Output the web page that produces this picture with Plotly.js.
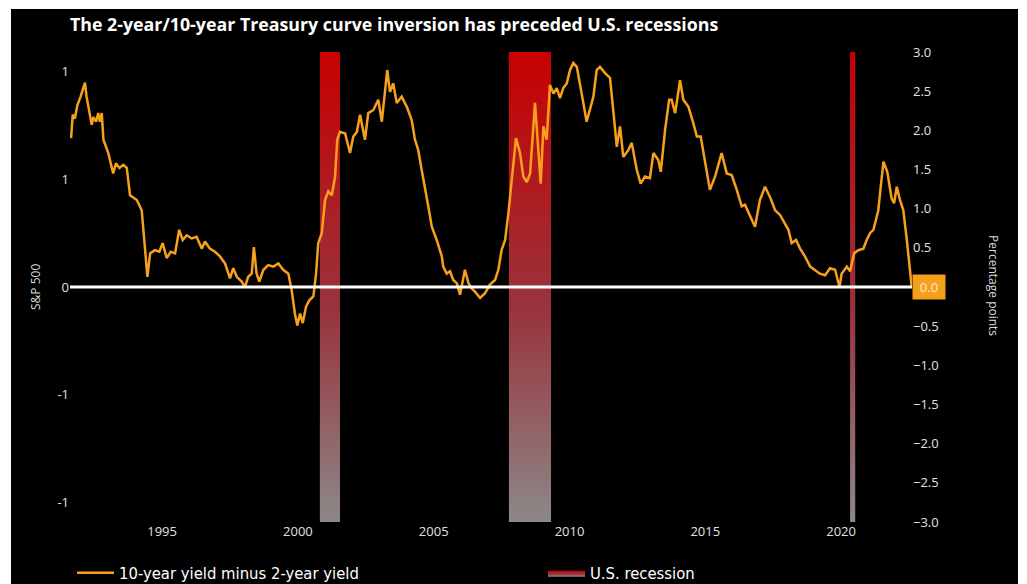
<!DOCTYPE html>
<html>
<head>
<meta charset="utf-8">
<script src="https://cdn.plot.ly/plotly-3.0.1.min.js"></script>
<style>
  html, body { margin: 0; padding: 0; background: #ffffff; width: 1027px; height: 584px; overflow: hidden; }
  #chart { position: absolute; left: 11px; top: 9px; width: 1007px; height: 575px; }
</style>
</head>
<body>
<div id="chart"></div>
<script>
// ---- Data (decimal years, percentage points) ----
const spreadDates = [
  1991.65,1991.71,1991.79,1991.88,1992.00,1992.16,1992.22,1992.32,1992.41,1992.47,
  1992.57,1992.65,1992.71,1992.78,1992.84,1993.02,1993.20,1993.30,1993.43,1993.57,
  1993.70,1993.82,1994.07,1994.25,1994.37,1994.46,1994.56,1994.74,1994.90,1995.02,
  1995.17,1995.32,1995.48,1995.63,1995.76,1995.91,1996.09,1996.27,1996.46,1996.58,
  1996.76,1996.95,1997.13,1997.32,1997.50,1997.62,1997.75,1997.93,1998.05,1998.17,
  1998.30,1998.38,1998.48,1998.58,1998.73,1998.91,1999.10,1999.28,1999.46,1999.65,
  1999.77,1999.89,1999.98,2000.08,2000.18,2000.30,2000.42,2000.57,2000.67,2000.75,
  2000.88,2001.00,2001.12,2001.25,2001.37,2001.45,2001.55,2001.74,2001.92,2002.04,
  2002.17,2002.29,2002.47,2002.59,2002.78,2002.96,2003.09,2003.21,2003.29,2003.39,
  2003.51,2003.64,2003.82,2004.01,2004.19,2004.31,2004.43,2004.56,2004.68,2004.80,
  2004.93,2005.11,2005.30,2005.35,2005.48,2005.60,2005.72,2005.85,2005.97,2006.15,
  2006.28,2006.40,2006.52,2006.71,2006.89,2007.07,2007.26,2007.38,2007.50,2007.63,
  2007.75,2007.87,2008.03,2008.18,2008.30,2008.43,2008.55,2008.73,2008.85,2008.94,
  2009.04,2009.16,2009.28,2009.41,2009.53,2009.65,2009.77,2009.90,2010.02,2010.14,
  2010.27,2010.39,2010.51,2010.63,2010.76,2010.88,2011.00,2011.12,2011.31,2011.49,
  2011.61,2011.74,2011.86,2011.98,2012.17,2012.29,2012.48,2012.62,2012.78,2012.96,
  2013.09,2013.27,2013.36,2013.52,2013.67,2013.76,2013.89,2014.07,2014.19,2014.38,
  2014.56,2014.69,2014.83,2014.99,2015.17,2015.36,2015.60,2015.79,2015.97,2016.16,
  2016.34,2016.46,2016.65,2016.83,2017.01,2017.20,2017.38,2017.57,2017.75,2017.90,
  2018.06,2018.18,2018.34,2018.49,2018.67,2018.86,2019.04,2019.22,2019.41,2019.59,
  2019.78,2019.94,2020.02,2020.21,2020.33,2020.48,2020.63,2020.82,2020.94,2021.07,
  2021.19,2021.37,2021.46,2021.56,2021.70,2021.86,2021.95,2022.05,2022.17,2022.29,
  2022.42,2022.54,2022.60
];
const spreadValues = [
  1.90,2.20,2.15,2.32,2.43,2.61,2.43,2.22,2.07,2.17,
  2.11,2.22,2.11,2.22,1.88,1.71,1.45,1.58,1.52,1.56,
  1.52,1.17,1.11,0.98,0.51,0.13,0.43,0.47,0.45,0.56,
  0.37,0.45,0.43,0.73,0.60,0.66,0.62,0.64,0.49,0.58,
  0.49,0.45,0.39,0.30,0.11,0.24,0.13,0.07,0.00,0.13,
  0.17,0.51,0.17,0.07,0.22,0.28,0.26,0.30,0.22,0.17,
  -0.04,-0.34,-0.49,-0.34,-0.46,-0.25,-0.17,-0.12,0.17,0.56,
  0.69,1.11,1.22,1.17,1.41,1.88,1.98,1.96,1.71,1.92,
  1.98,2.20,1.88,2.22,2.26,2.39,2.11,2.47,2.77,2.49,
  2.60,2.35,2.43,2.30,2.13,1.88,1.75,1.49,1.28,1.03,
  0.77,0.60,0.39,0.26,0.17,0.20,0.09,0.05,-0.10,0.22,
  0.05,-0.02,-0.06,-0.14,-0.08,0.03,0.09,0.22,0.47,0.60,
  0.94,1.32,1.90,1.71,1.41,1.34,1.45,2.35,1.79,1.32,
  2.05,1.88,2.58,2.47,2.54,2.41,2.54,2.60,2.77,2.86,
  2.81,2.60,2.35,2.11,2.26,2.43,2.77,2.81,2.73,2.67,
  2.26,1.79,2.05,1.66,1.75,1.84,1.49,1.32,1.41,1.39,
  1.71,1.62,1.47,2.01,2.39,2.39,2.22,2.64,2.39,2.30,
  2.09,1.92,1.92,1.62,1.24,1.41,1.71,1.45,1.43,1.24,
  1.03,1.05,0.90,0.77,1.11,1.28,1.15,0.98,0.92,0.83,
  0.73,0.56,0.60,0.49,0.39,0.26,0.22,0.17,0.15,0.24,
  0.22,0.00,0.17,0.26,0.20,0.43,0.47,0.49,0.60,0.69,
  0.73,0.98,1.28,1.60,1.47,1.13,1.07,1.28,1.11,0.98,
  0.60,0.17,0.00
];
const recessionStarts = [2000.81, 2007.77, 2020.33];
const recessionEnds   = [2001.55, 2009.32, 2020.52];
const xTickYears = [1995, 2000, 2005, 2010, 2015, 2020];
const xRange = [1991.61, 2022.61];
const rightRange = [-3, 3];
const rightTickVals = [-3, -2.5, -2, -1.5, -1, -0.5, 0.5, 1, 1.5, 2, 2.5, 3];
const leftRange = [-1.0909, 1.0909];
const leftTickVals = [-1, -0.5, 0, 0.5, 1];
const leftTickText = ['-1', '-1', '0', '1', '1'];
const zeroLevel = 0;

// ---- Build recession polygons ----
const recX = [], recY = [];
recessionStarts.forEach((s, i) => {
  const e = recessionEnds[i];
  recX.push(s, e, e, s, s, null);
  recY.push(rightRange[0], rightRange[0], rightRange[1], rightRange[1], rightRange[0], null);
});

const tickFont = { family: 'Open Sans, Liberation Sans, sans-serif', size: 13, color: '#e0e0e0' };

const traces = [
  {
    x: recX, y: recY, type: 'scatter', mode: 'lines', fill: 'toself',
    name: 'U.S. recession', legendrank: 2, legendwidth: 120,
    line: { width: 0, color: 'rgba(0,0,0,0)' },
    fillcolor: 'rgb(170,30,35)',
    fillgradient: {
      type: 'vertical',
      colorscale: [[0, 'rgb(140,136,136)'], [0.45, 'rgb(152,52,60)'], [1, 'rgb(200,0,0)']]
    },
    hoverinfo: 'skip', xaxis: 'x', yaxis: 'y'
  },
  {
    // zero line of the S&P 500 (left) axis
    x: xRange, y: [zeroLevel, zeroLevel], type: 'scatter', mode: 'lines',
    line: { color: '#ffffff', width: 3 }, showlegend: false, hoverinfo: 'skip',
    xaxis: 'x', yaxis: 'y2'
  },
  {
    x: spreadDates, y: spreadValues, type: 'scatter', mode: 'lines',
    name: '10-year yield minus 2-year yield', legendrank: 1, legendwidth: 419,
    line: { color: '#f7a01c', width: 2.5 }, xaxis: 'x', yaxis: 'y'
  }
];

const layout = {
  width: 1007, height: 575,
  paper_bgcolor: '#000000', plot_bgcolor: '#000000',
  margin: { l: 59, r: 106, t: 43, b: 62 },
  title: {
    text: 'The 2-year/10-year Treasury curve inversion has preceded U.S. recessions',
    font: { family: 'Open Sans, Liberation Sans, sans-serif', size: 17.8, color: '#ffffff', weight: 700 },
    xref: 'paper', x: 0, xanchor: 'left',
    yref: 'container', y: 1 - 16 / 575, yanchor: 'middle',
    pad: { l: 0, r: 0, t: 0, b: 0 }
  },
  showlegend: true,
  legend: {
    orientation: 'h', xref: 'container', yref: 'container',
    x: (72 - 11) / 1007, xanchor: 'left', y: 1 - 564 / 575, yanchor: 'middle',
    itemwidth: 37,
    font: { family: 'Liberation Sans Narrow, DejaVu Sans Condensed, sans-serif', size: 16.5, color: '#ffffff' },
    bgcolor: 'rgba(0,0,0,0)', traceorder: 'normal'
  },
  xaxis: {
    range: xRange, tickvals: xTickYears, ticktext: xTickYears.map(String),
    showgrid: false, zeroline: false, showline: false, ticks: '',
    tickfont: tickFont
  },
  yaxis: {
    range: rightRange, side: 'right', tickvals: rightTickVals, tickformat: '.1f',
    showgrid: false, zeroline: false, showline: false, ticks: '',
    tickfont: tickFont
  },
  yaxis2: {
    range: leftRange, side: 'left', overlaying: 'y', anchor: 'x',
    tickvals: leftTickVals, ticktext: leftTickText,
    showgrid: false, zeroline: false, showline: false, ticks: '',
    tickfont: tickFont
  },
  annotations: [
    {
      text: 'S&P 500', xref: 'paper', yref: 'paper',
      x: (35 - 70) / 842, y: 0.5, textangle: -90, showarrow: false,
      font: { family: 'Open Sans, Liberation Sans, sans-serif', size: 12, color: '#d9d9d9' },
      xanchor: 'center', yanchor: 'middle'
    },
    {
      text: 'Percentage points', xref: 'paper', yref: 'paper',
      x: (994 - 70) / 842, y: 0.504, textangle: 90, showarrow: false,
      font: { family: 'Open Sans, Liberation Sans, sans-serif', size: 12, color: '#d9d9d9' },
      xanchor: 'center', yanchor: 'middle'
    },
    {
      text: '0.0', xref: 'paper', yref: 'y', x: 1, y: 0,
      xanchor: 'left', yanchor: 'middle', showarrow: false,
      bgcolor: '#f5a01a', borderpad: 3, width: 26,
      font: { family: 'Open Sans, Liberation Sans, sans-serif', size: 13, color: '#ffe9c9' }
    }
  ]
};

Plotly.newPlot('chart', traces, layout, { displayModeBar: false, staticPlot: true });
</script>
</body>
</html>
